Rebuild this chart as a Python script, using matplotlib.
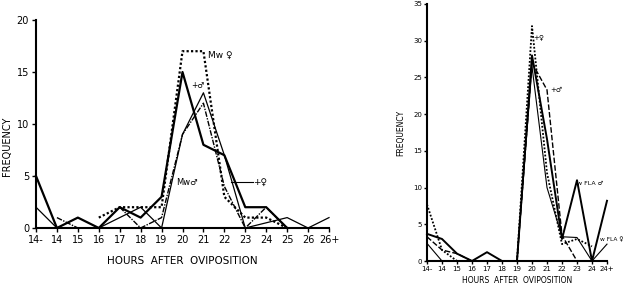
import numpy as np
import matplotlib.pyplot as plt

nan = np.nan

# Panel izquierdo - horas despues de la oviposicion
horas_izq = ['14-', '14', '15', '16', '17', '18', '19', '20', '21', '22', '23', '24', '25', '26', '26+']
mw_hembra = [nan, nan, nan, 1, 2, 2, 2, 17, 17, 3, 1, 1, 0, nan, nan]
macho = [5, 0, 1, 0, 2, 1, 3, 15, 8, 7, 2, 2, 0, nan, nan]
hembra = [2, 0, 0, 0, 1, 2, 0, 9, 13, 7, 0, 0.5, 1, 0, 1]
mw_macho = [nan, 1, 0, nan, 2, 0, 1, 9, 12, 4, 0, 2, 0, nan, nan]

# Panel derecho
horas_der = ['14-', '14', '15', '16', '17', '18', '19', '20', '21', '22', '23', '24', '24+']
hembra_d = [7.7, 1.5, 0, nan, nan, nan, 0, 32, 12, 2.3, 3, 2, nan]
macho_d = [3.3, 1.5, 1, 0, nan, nan, 0, 27, 23.3, 3.5, 0, nan, nan]
fla_macho = [3.7, 3, 1, 0, 1.2, 0, 0, 28, 16.6, 3, 11, 0, 8.2]
fla_hembra = [2.4, 0, nan, nan, nan, nan, 0, 26.5, 10, 3.3, 3.2, 0, 2.3]

plt.rcParams['font.family'] = 'DejaVu Sans'
fig = plt.figure(figsize=(6.26, 2.86), dpi=100)

ax1 = fig.add_axes([36/626, 1-228/286, 293/626, 208/286])
ax2 = fig.add_axes([427/626, 1-261/286, 180/626, 257/286])

x1 = np.arange(len(horas_izq))
ax1.plot(x1, mw_hembra, color='black', lw=1.6, ls=(0, (1, 1)), clip_on=False)
ax1.plot(x1, macho, color='black', lw=1.6, clip_on=False)
ax1.plot(x1, hembra, color='black', lw=0.9, clip_on=False)
ax1.plot(x1, mw_macho, color='black', lw=1.0, ls=(0, (4, 1, 1, 1)), clip_on=False)

ax1.text(8.2, 16.6, 'Mw ♀', fontsize=6.5, va='center')
ax1.text(7.4, 13.7, '+♂', fontsize=5.5, va='center')
ax1.text(6.7, 4.4, 'Mw♂', fontsize=6, va='center')
ax1.plot([9.3, 10.35], [4.4, 4.4], color='black', lw=0.8)
ax1.text(10.35, 4.4, '+♀', fontsize=6.5, va='center')

ax1.set_xlim(0, 14)
ax1.set_ylim(0, 20)
ax1.set_xticks(x1)
ax1.set_xticklabels(horas_izq)
ax1.set_yticks([0, 5, 10, 15, 20])
ax1.tick_params(labelsize=7, length=3, width=1, pad=2)
ax1.set_xlabel('HOURS  AFTER  OVIPOSITION', fontsize=7.5, labelpad=8)
fig.text(2/626, 1-146/286, 'FREQUENCY', rotation=90, fontsize=7,
         ha='left', va='center')

x2 = np.arange(len(horas_der))
ax2.plot(x2, hembra_d, color='black', lw=1.3, ls=(0, (1, 1)), clip_on=False)
ax2.plot(x2, macho_d, color='black', lw=1.0, ls=(0, (4, 1.5)), clip_on=False)
ax2.plot(x2, fla_macho, color='black', lw=1.4, clip_on=False)
ax2.plot(x2, fla_hembra, color='black', lw=0.8, clip_on=False)

ax2.text(7.1, 30.5, '+♀', fontsize=5, va='center')
ax2.text(8.2, 23.3, '+♂', fontsize=5, va='center')
ax2.text(10.0, 10.6, 'w FLA ♂', fontsize=4.5, va='center')
ax2.text(11.5, 2.9, 'w FLA ♀', fontsize=4.2, va='center')

ax2.set_xlim(0, 12)
ax2.set_ylim(0, 35)
ax2.set_xticks(x2)
ax2.set_xticklabels(horas_der)
ax2.set_yticks([0, 5, 10, 15, 20, 25, 30, 35])
ax2.tick_params(labelsize=5, length=2, width=1, pad=1.5)
ax2.set_xlabel('HOURS  AFTER  OVIPOSITION', fontsize=5.5, labelpad=3)
ax2.set_ylabel('FREQUENCY', fontsize=5.5, labelpad=6)

for ax in (ax1, ax2):
    ax.spines['top'].set_visible(False)
    ax.spines['right'].set_visible(False)
    ax.spines['left'].set_linewidth(1.5)
    ax.spines['bottom'].set_linewidth(1.5)

fig.savefig('out.png', dpi=100)
